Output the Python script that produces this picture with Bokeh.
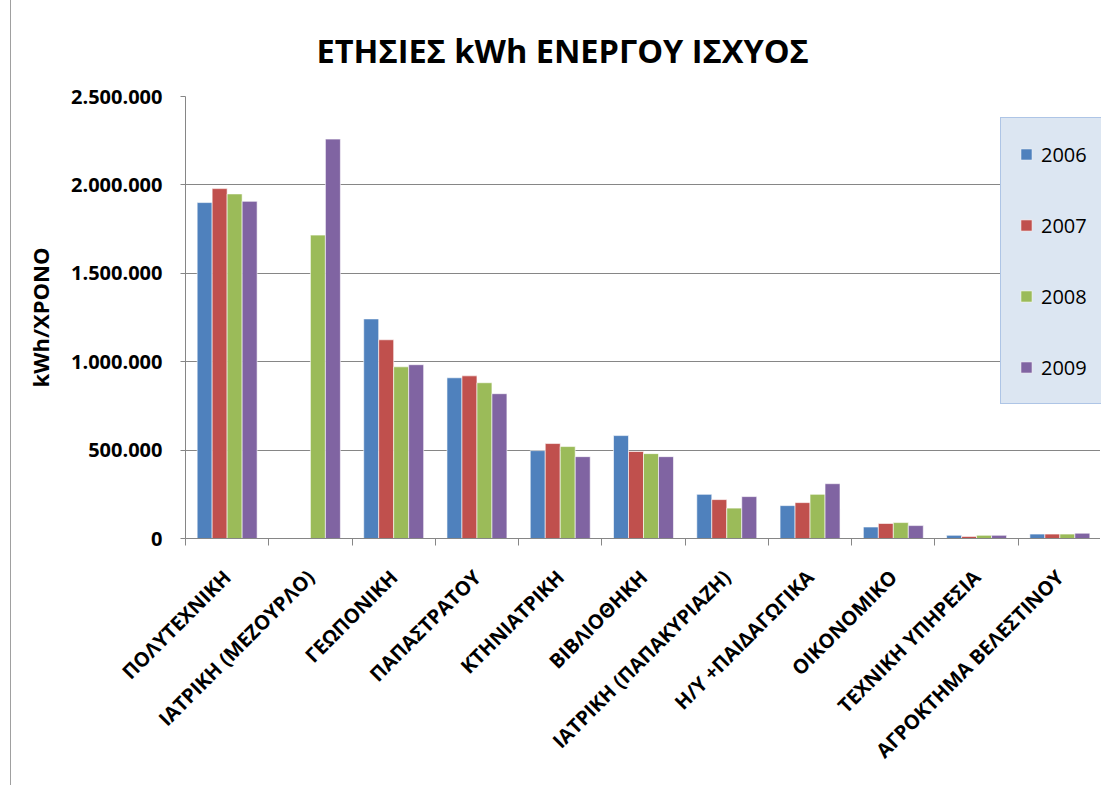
import math
from bokeh.plotting import figure
from bokeh.models import (Range1d, LinearAxis, FixedTicker,
                          Legend, LegendItem, ColumnDataSource)
from bokeh.transform import dodge
from bokeh.embed import file_html
from bokeh.resources import INLINE

categories = ["ΠΟΛΥΤΕΧΝΙΚΗ", "ΙΑΤΡΙΚΗ (ΜΕΖΟΥΡΛΟ)", "ΓΕΩΠΟΝΙΚΗ", "ΠΑΠΑΣΤΡΑΤΟΥ",
              "ΚΤΗΝΙΑΤΡΙΚΗ", "ΒΙΒΛΙΟΘΗΚΗ", "ΙΑΤΡΙΚΗ (ΠΑΠΑΚΥΡΙΑΖΗ)", "Η/Υ +ΠΑΙΔΑΓΩΓΙΚΑ",
              "ΟΙΚΟΝΟΜΙΚΟ", "ΤΕΧΝΙΚΗ ΥΠΗΡΕΣΙΑ", "ΑΓΡΟΚΤΗΜΑ ΒΕΛΕΣΤΙΝΟΥ"]
years = ["2006", "2007", "2008", "2009"]
v2006 = [1900000, 0, 1242000, 909000, 497000, 582000, 250000, 186000, 65000, 18000, 25000]
v2007 = [1979000, 0, 1124000, 920000, 537000, 492000, 220000, 203000, 85000, 12000, 25000]
v2008 = [1949000, 1716000, 971000, 881000, 520000, 480000, 172000, 250000, 90000, 18000, 25000]
v2009 = [1907000, 2259000, 983000, 819000, 463000, 463000, 237000, 310000, 73000, 18000, 30000]
y_ticks = [0, 500000, 1000000, 1500000, 2000000, 2500000]
y_tick_labels = ["0", "500.000", "1.000.000", "1.500.000", "2.000.000", "2.500.000"]
title_text = "ΕΤΗΣΙΕΣ kWh ΕΝΕΡΓΟΥ ΙΣΧΥΟΣ"
y_label = "kWh/ΧΡΟΝΟ"

colors = ["#4F81BD", "#C0504D", "#9BBB59", "#8064A2"]
offsets = [-0.27, -0.09, 0.09, 0.27]

n = len(categories)
x_centers = [i + 0.5 for i in range(n)]
x_bounds = list(range(n + 1))

source = ColumnDataSource(dict(x=x_centers, cat=categories,
                               y2006=v2006, y2007=v2007, y2008=v2008, y2009=v2009))

p = figure(width=1090, height=785, x_range=Range1d(0, n),
           y_range=Range1d(0, 2500000), output_backend="svg", toolbar_location=None,
           x_axis_location=None, min_border_left=174, min_border_right=0,
           min_border_top=96, min_border_bottom=247)
p.styles = {"margin-left": "10px", "border-left": "1px solid #a0a0a0"}
p.outline_line_color = None
p.background_fill_color = "white"
p.border_fill_color = "white"

p.title.text = title_text
p.title.text_font = "Open Sans"
p.title.text_font_style = "bold"
p.title.text_font_size = "32.5px"
p.title.text_color = "black"
p.title.align = "left"
p.title.offset = 131
p.title.standoff = 48

# y axis
ya = p.yaxis[0]
ya.ticker = FixedTicker(ticks=y_ticks)
ya.major_label_overrides = {t: l for t, l in zip(y_ticks, y_tick_labels)}
ya.major_label_text_font = "Open Sans"
ya.major_label_text_font_style = "bold"
ya.major_label_text_font_size = "20px"
ya.major_label_text_color = "black"
ya.major_label_standoff = 18
ya.major_tick_out = 5
ya.major_tick_in = 0
ya.minor_tick_line_color = None
ya.axis_line_color = "#868686"
ya.major_tick_line_color = "#868686"
ya.axis_label = y_label
ya.axis_label_text_font = "Open Sans"
ya.axis_label_text_font_style = "bold"
ya.axis_label_text_font_size = "22px"
ya.axis_label_text_color = "black"
ya.axis_label_standoff = 13

p.xgrid.grid_line_color = None
p.ygrid.grid_line_color = "#868686"
p.ygrid.ticker = FixedTicker(ticks=y_ticks)

# x axis: labels at category centres, tick marks (minor) at category boundaries
xa = LinearAxis(ticker=FixedTicker(ticks=x_centers, minor_ticks=x_bounds))
xa.major_label_overrides = {c: l for c, l in zip(x_centers, categories)}
xa.axis_line_color = "#868686"
xa.major_tick_line_color = None
xa.major_tick_out = 0
xa.major_tick_in = 0
xa.minor_tick_line_color = "#868686"
xa.minor_tick_out = 7
xa.minor_tick_in = 0
xa.major_label_orientation = math.pi / 4
xa.major_label_text_font = "Open Sans"
xa.major_label_text_font_style = "bold"
xa.major_label_text_font_size = "20px"
xa.major_label_text_color = "black"
xa.major_label_standoff = 28
p.add_layout(xa, "below")

items = []
for yr, col, off in zip(years, colors, offsets):
    r = p.vbar(x=dodge("x", off), top="y" + yr, width=0.18, source=source,
               fill_color=col, line_color="white", line_alpha=0.6, line_width=1)
    items.append(LegendItem(label=yr, renderers=[r]))

legend = Legend(items=items, location=(815, 134), orientation="vertical")
legend.background_fill_color = "#DCE6F2"
legend.background_fill_alpha = 1
legend.border_line_color = "#7FA3D9"
legend.border_line_width = 1
legend.glyph_width = 14
legend.glyph_height = 14
legend.label_height = 36
legend.spacing = 35
legend.padding = 18
legend.margin = 0
legend.label_standoff = 8
legend.label_text_font = "Open Sans"
legend.label_text_font_size = "20px"
legend.label_text_color = "black"
legend.label_width = 80
p.add_layout(legend, "center")

open("out.html", "w").write(file_html(p, INLINE))
